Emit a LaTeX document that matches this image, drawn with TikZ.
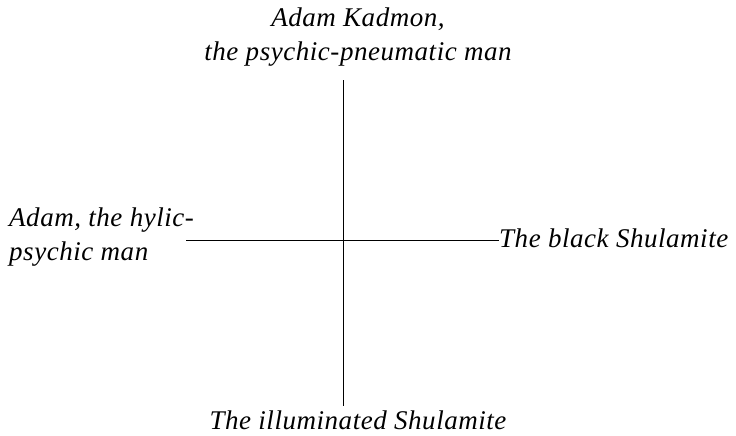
\documentclass[tikz,border=0pt]{standalone}
\usepackage{fontspec}
\setmainfont{Liberation Serif}[LetterSpace=2]
\begin{document}
\begin{tikzpicture}[x=1pt,y=1pt,
  lbl/.style={font=\fontsize{27}{34}\selectfont\itshape, inner sep=0pt},
  ln/.style={line width=1.3pt}]
\useasboundingbox (0,0) rectangle (736,-436);
\node[lbl, align=center, anchor=base] (top) at (358,-61) {Adam Kadmon,\\the psychic-pneumatic man};
\node[lbl, align=left, anchor=base west] (left) at (9,-260) {Adam, the hylic-\\psychic man};
\node[lbl, anchor=base west] (right) at (499,-247) {The black Shulamite};
\node[lbl, anchor=base] (bot) at (358,-429) {The illuminated Shulamite};
\coordinate (c) at (343.5,-240.5);
\coordinate (vt) at (343.5,-80);
\coordinate (vb) at (343.5,-406);
\coordinate (hl) at (186,-240.5);
\coordinate (hr) at (right.west |- c);
\draw[ln] (vt) -- (vb);
\draw[ln] (hl) -- (c) -- (hr);
\end{tikzpicture}
\end{document}
